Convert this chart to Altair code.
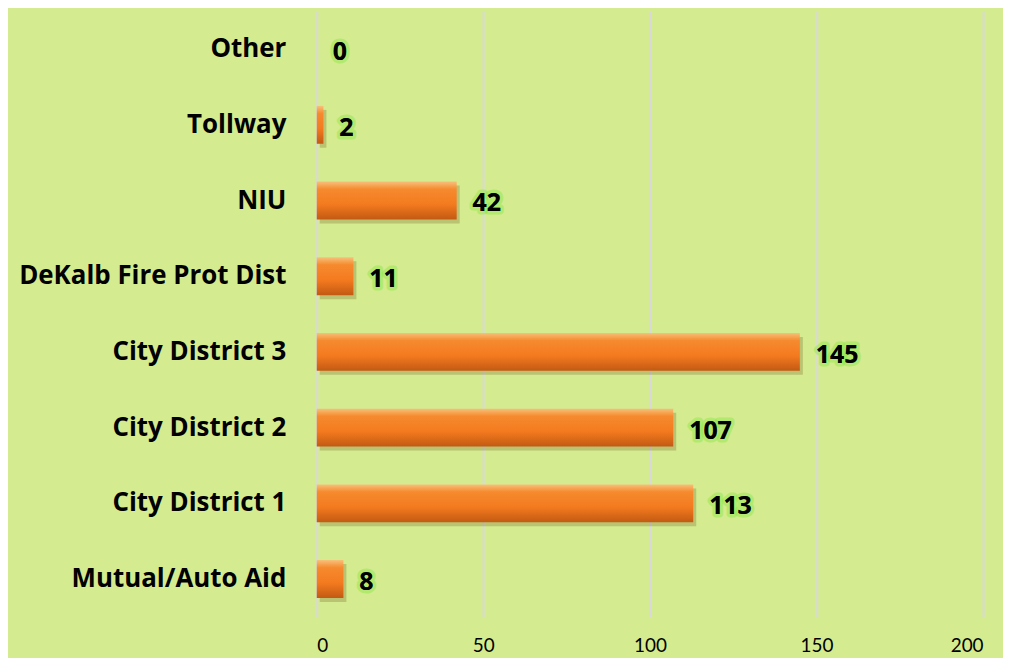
import altair as alt
import pandas as pd

categories = ["Other", "Tollway", "NIU", "DeKalb Fire Prot Dist",
              "City District 3", "City District 2", "City District 1", "Mutual/Auto Aid"]
values = [0, 2, 42, 11, 145, 107, 113, 8]

df = pd.DataFrame({"category": categories, "value": values})

bg = "#d4eb8f"
y_enc = alt.Y("category:N", sort=categories, title=None,
              scale=alt.Scale(paddingInner=0.5, paddingOuter=0.25),
              axis=alt.Axis(labelFont="Open Sans", labelFontSize=26, labelFontWeight="bold",
                            labelColor="#000000", labelPadding=31, ticks=False,
                            domain=False, grid=False, labelLimit=400))
x_enc = alt.X("value:Q", title=None,
              scale=alt.Scale(domain=[0, 200], nice=False),
              axis=alt.Axis(values=[0, 50, 100, 150, 200], labelFont="Lato",
                            labelFontSize=19, labelColor="#000000", labelPadding=20,
                            ticks=False, domain=False, grid=True,
                            gridColor="#d9d9d9", gridWidth=2))

base = alt.Chart(df)

shadow = base.transform_filter("datum.value > 0").mark_bar(
    color="#6b4a1a", opacity=0.25, xOffset=3, yOffset=4).encode(x=x_enc, y=y_enc)

bars = base.transform_filter("datum.value > 0").mark_bar(
    color=alt.Gradient(gradient="linear", x1=0, y1=0, x2=0, y2=1,
                       stops=[alt.GradientStop(offset=0, color="#f8c07a"),
                              alt.GradientStop(offset=0.2, color="#f68a2e"),
                              alt.GradientStop(offset=0.6, color="#f47a1f"),
                              alt.GradientStop(offset=1, color="#c25a12")])
).encode(x=x_enc, y=y_enc)

glow = base.mark_text(align="left", baseline="middle", dx=16, dy=3,
                      font="Open Sans", fontSize=25, fontWeight="bold",
                      color="#000000", stroke="#7fe83a", strokeWidth=7,
                      strokeOpacity=0.4, strokeJoin="round").encode(
    x="value:Q", y=alt.Y("category:N", sort=categories), text="value:Q")

labels = base.mark_text(align="left", baseline="middle", dx=16, dy=3,
                        font="Open Sans", fontSize=25, fontWeight="bold",
                        color="#000000").encode(
    x="value:Q", y=alt.Y("category:N", sort=categories), text="value:Q")

chart = alt.layer(shadow, bars, glow, labels).properties(
    width=669, height=608,
    background=bg,
    padding={"left": 310, "top": 2, "right": 20, "bottom": 40},
    autosize=alt.AutoSizeParams(type="none")
).configure_view(strokeWidth=0)

chart.save("out.html", embed_options={"renderer": "svg", "actions": False})
